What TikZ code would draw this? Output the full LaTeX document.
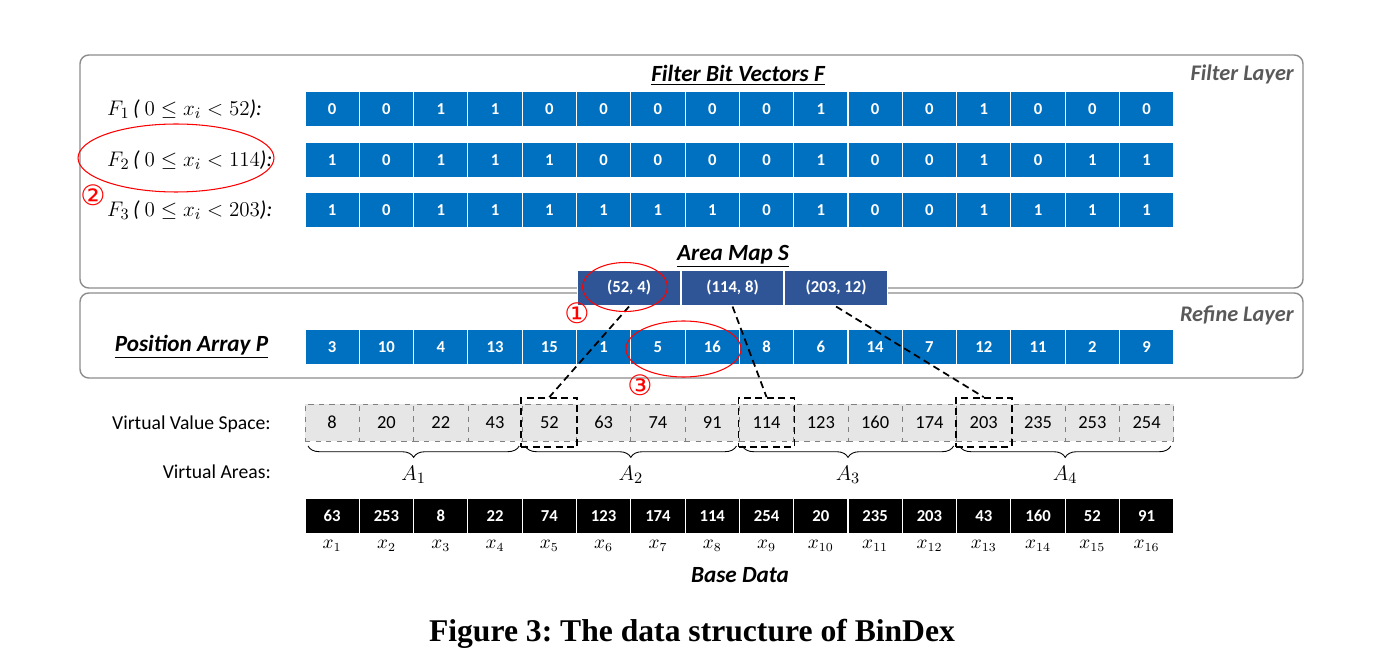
\documentclass[tikz,border=0pt]{standalone}
\usepackage{fontspec}
\setmainfont{Carlito}
\newfontfamily\capfont{Liberation Serif}
\newfontfamily\symfont{DejaVu Sans}
\usepackage{tikz}
\usetikzlibrary{positioning, decorations.pathreplacing}

\definecolor{bitblue}{HTML}{0070C0}
\definecolor{mapblue}{HTML}{2F5597}
\definecolor{vgray}{HTML}{E7E6E6}
\definecolor{layergray}{HTML}{8C8C8C}
\definecolor{namegray}{HTML}{595959}

\tikzset{
    cell/.style={minimum width=1.086cm, minimum height=0.7cm, inner sep=0pt,
        font=\bfseries\fontsize{9.5}{11}\selectfont},
    bit/.style={cell, fill=bitblue, draw=white, line width=0.6pt, text=white},
    virt/.style={cell, fill=vgray, draw=gray, dashed, thin, minimum height=0.74cm,
        font=\fontsize{10.5}{12}\selectfont},
    base/.style={cell, fill=black, draw=white, line width=0.6pt, text=white},
    area/.style={cell, fill=mapblue, draw=white, line width=0.6pt, text=white,
        minimum width=2.05cm, minimum height=0.72cm},
    layer/.style={draw=layergray, rounded corners=5pt, line width=0.8pt},
    layername/.style={text=namegray, font=\bfseries\itshape\fontsize{12.7}{14}\selectfont},
    title/.style={font=\bfseries\itshape\fontsize{13.2}{15}\selectfont},
    flabel/.style={font=\fontsize{12.3}{14}\selectfont},
    side/.style={font=\fontsize{11.2}{13}\selectfont},
    pickbox/.style={draw=black, line width=1pt, dash pattern=on 4pt off 2.5pt,
        minimum width=1.12cm, minimum height=0.98cm, inner sep=0pt},
    pickline/.style={draw=black, line width=1pt, dash pattern=on 4pt off 2.5pt},
    hilite/.style={draw=red, line width=0.6pt},
    circnum/.style={text=red, font=\symfont\fontsize{16}{18}\selectfont},
    brace/.style={decorate, decoration={brace, mirror, amplitude=6.5pt}, line width=0.5pt}
}

\begin{document}
\frenchspacing
\begin{tikzpicture}[x=0.02cm, y=-0.02cm]
    \useasboundingbox (0,0) rectangle (1399,658);

    % layers
    \draw[layer] (80,55) rectangle (1303,288);
    \draw[layer] (80,293) rectangle (1303,378);
    \node[layername, anchor=east] (fl) at (1300,74) {Filter Layer};
    \node[layername, anchor=east] (rl) at (1300,315) {Refine Layer};

    % filter bit vectors
    \node[title] (ft) at (738,75) {\underline{Filter Bit Vectors F}};
    \foreach \v [count=\i] in {0,0,1,1,0,0,0,0,0,1,0,0,1,0,0,0}
        \node[bit] (fa\i) at ({305+54.3*(\i-0.5)},109) {\v};
    \foreach \v [count=\i] in {1,0,1,1,1,0,0,0,0,1,0,0,1,0,1,1}
        \node[bit] (fb\i) at ({305+54.3*(\i-0.5)},160) {\v};
    \foreach \v [count=\i] in {1,0,1,1,1,1,1,1,0,1,0,0,1,1,1,1}
        \node[bit] (fc\i) at ({305+54.3*(\i-0.5)},210) {\v};
    \node[flabel, anchor=west] (la) at (101,109) {$F_1$\,\textit{(} $0 \le x_i < 52$\textit{):}};
    \node[flabel, anchor=west] (lb) at (101,160) {$F_2$\,\textit{(} $0 \le x_i < 114$\textit{):}};
    \node[flabel, anchor=west] (lc) at (101,210) {$F_3$\,\textit{(} $0 \le x_i < 203$\textit{):}};

    % position array
    \foreach \v [count=\i] in {3,10,4,13,15,1,5,16,8,6,14,7,12,11,2,9}
        \node[bit] (p\i) at ({305+54.3*(\i-0.5)},347) {\v};
    \node[title, left=0.6cm of p1] (pt) {\underline{Position Array P}};

    % area map
    \node[area] (s1) at (629,288) {(52, 4)};
    \node[area, right=0pt of s1] (s2) {(114, 8)};
    \node[area, right=0pt of s2] (s3) {(203, 12)};
    \node[title] (st) at (733,256) {\underline{Area Map S}};

    % virtual value space
    \foreach \v [count=\i] in {8,20,22,43,52,63,74,91,114,123,160,174,203,235,253,254}
        \node[virt] (v\i) at ({305+54.3*(\i-0.5)},422.5) {\v};
    \node[side, anchor=east] (vl) at (277,424) {Virtual Value Space:};
    \node[side, anchor=east] (al) at (277,472) {Virtual Areas:};
    \foreach \g in {1,...,4}
        \draw[brace] ({305+217.2*(\g-1)+3},446) -- ({305+217.2*\g-3},446)
            node[midway, below=8pt, font=\fontsize{12.5}{14}\selectfont] (A\g) {$A_{\g}$};

    % base data
    \foreach \v [count=\i] in {63,253,8,22,74,123,174,114,254,20,235,203,43,160,52,91}
        \node[base] (d\i) at ({305+54.3*(\i-0.5)},516) {\v};
    \foreach \i in {1,...,16}
        \node[below=0pt of d\i, font=\fontsize{10.5}{12}\selectfont] (x\i) {$x_{\i}$};
    \node[title] (bt) at (740,575) {Base Data};

    % picked entries
    \node[pickbox] (h1) at (v5) {};
    \node[pickbox] (h2) at (v9) {};
    \node[pickbox] (h3) at (v13) {};
    \draw[pickline] (s1.south) -- (h1.north);
    \draw[pickline] (s2.south) -- (h2.north);
    \draw[pickline] (s3.south) -- (h3.north);

    % annotations
    \draw[hilite] (625,287) ellipse [x radius=0.85cm, y radius=0.49cm];
    \draw[hilite] (176,158) ellipse [x radius=1.96cm, y radius=0.68cm];
    \draw[hilite] (683.5,349) ellipse [x radius=1.15cm, y radius=0.56cm];
    \node[circnum] (n1) at (577,313) {①};
    \node[circnum] (n2) at (93,195) {②};
    \node[circnum] (n3) at (640,385) {③};

    % caption
    \node[font=\capfont\bfseries\fontsize{18}{20}\selectfont] (cap) at (692,634)
        {Figure 3: The data structure of BinDex};
\end{tikzpicture}
\end{document}
